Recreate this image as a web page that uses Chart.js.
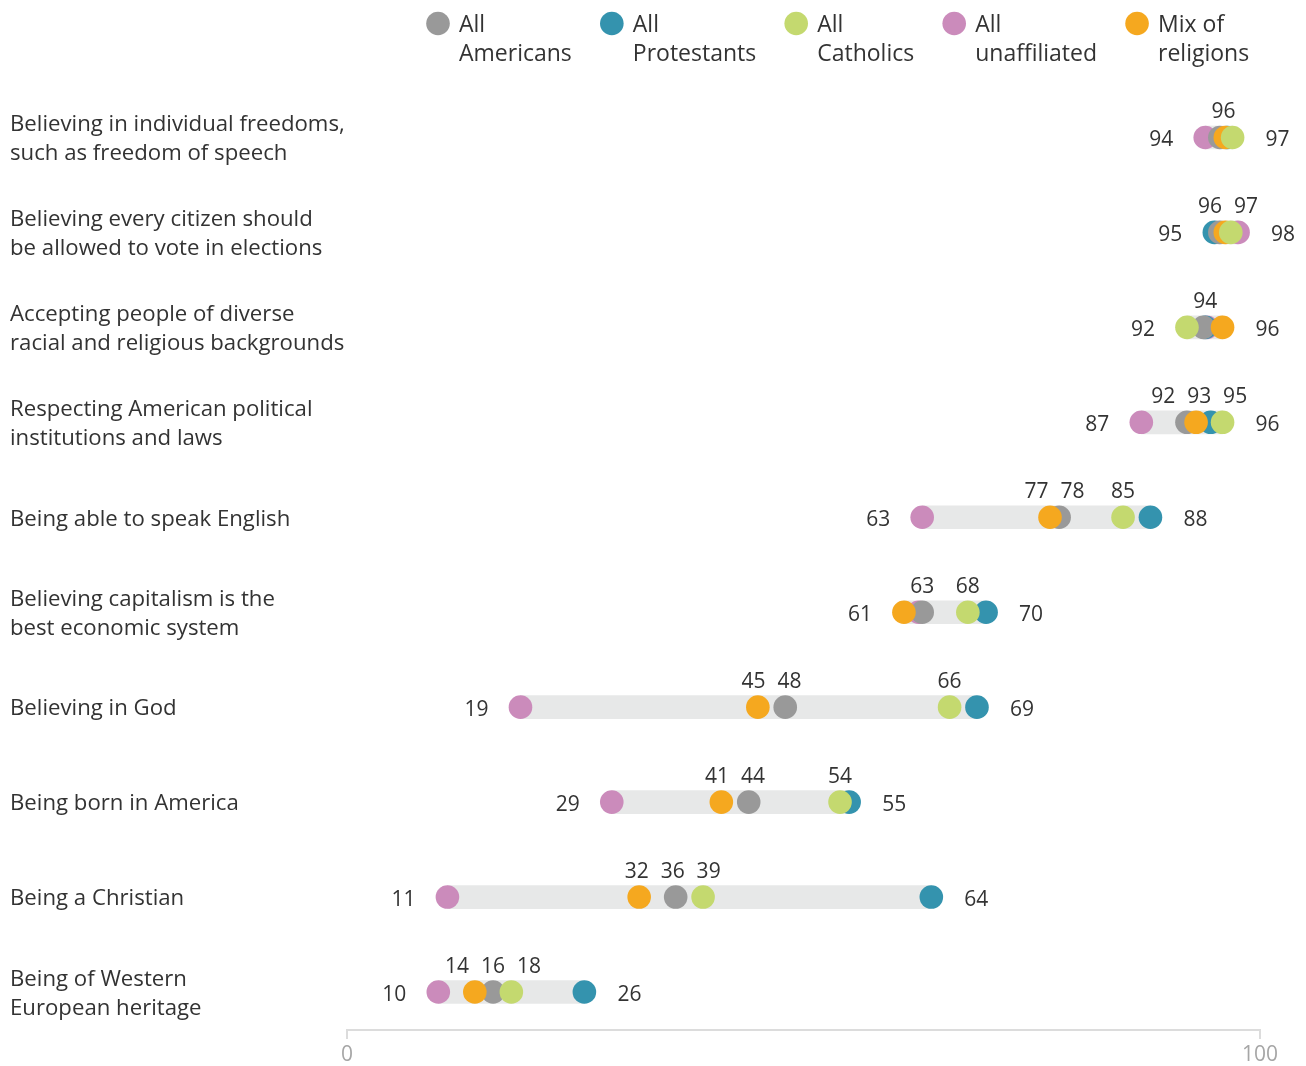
<!DOCTYPE html>
<html>
<head>
<meta charset="utf-8">
<script src="https://cdn.jsdelivr.net/npm/chart.js@4.4.1/dist/chart.umd.min.js"></script>
<style>
  html, body { margin: 0; padding: 0; background: #fff; }
  #wrap { width: 1306px; height: 1066px; }
</style>
</head>
<body>
<div id="wrap"><canvas id="dots"></canvas></div>
<script>
// rows, top to bottom
const categories = [
  ['Believing in individual freedoms,', 'such as freedom of speech'],
  ['Believing every citizen should', 'be allowed to vote in elections'],
  ['Accepting people of diverse', 'racial and religious backgrounds'],
  ['Respecting American political', 'institutions and laws'],
  'Being able to speak English',
  ['Believing capitalism is the', 'best economic system'],
  'Believing in God',
  'Being born in America',
  'Being a Christian',
  ['Being of Western', 'European heritage']
];

// % saying each is important
const allAmericans    = [95.6, 95.6, 93.8, 92,   78, 63,   48, 44, 36, 16];
const allProtestants  = [96.4, 95,   94,   94.6, 88, 70,   69, 55, 64, 26];
const allCatholics    = [97,   96.8, 92,   95.9, 85, 68,   66, 54, 39, 18];
const allUnaffiliated = [94,   97.6, 94.2, 87,   63, 62.6, 19, 29, 11, 10];
const mixOfReligions  = [96.2, 96.2, 95.9, 93,   77, 61,   45, 41, 32, 14];

const xTicks = [0, 100];

const series = [
  { name: ['All', 'Americans'],    data: allAmericans,    color: '#999999', order: 3 },
  { name: ['All', 'Protestants'],  data: allProtestants,  color: '#3493ae', order: 4 },
  { name: ['All', 'Catholics'],    data: allCatholics,    color: '#c4d96f', order: 1 },
  { name: ['All', 'unaffiliated'], data: allUnaffiliated, color: '#cb8bbb', order: 5 },
  { name: ['Mix of', 'religions'], data: mixOfReligions,  color: '#f5a81f', order: 2 }
];

const FONT = '"Open Sans", "DejaVu Sans", sans-serif';
const rowIdx = categories.map((_, i) => i);
const rowVals = i => series.map(s => s.data[i]);

// push overlapping labels apart
function spread(xs, gap) {
  for (let it = 0; it < 80; it++) {
    let moved = false;
    for (let k = 1; k < xs.length; k++) {
      const d = xs[k] - xs[k - 1];
      if (d < gap - 0.01) {
        const s = (gap - d) / 2;
        xs[k - 1] -= s; xs[k] += s; moved = true;
      }
    }
    if (!moved) break;
  }
}

const labelPlugin = {
  id: 'valueLabels',
  afterDatasetsDraw(chart) {
    const { ctx, scales: { x, y } } = chart;
    ctx.save();
    ctx.font = '21px ' + FONT;
    ctx.fillStyle = '#333';
    ctx.textBaseline = 'alphabetic';
    rowIdx.forEach(i => {
      const vals = rowVals(i);
      const lo = Math.min(...vals), hi = Math.max(...vals);
      const py = y.getPixelForValue(i);
      ctx.textAlign = 'right';
      ctx.fillText(Math.round(lo), x.getPixelForValue(lo) - 32, py + 9);
      ctx.textAlign = 'left';
      ctx.fillText(Math.round(hi), x.getPixelForValue(hi) + 33, py + 9);

      const rLo = Math.round(lo), rHi = Math.round(hi);
      const mids = [...new Set(vals.map(v => Math.round(v)))]
        .filter(v => v !== rLo && v !== rHi)
        .sort((a, b) => a - b);
      const xs = mids.map(v => x.getPixelForValue(v));
      spread(xs, 36);
      ctx.textAlign = 'center';
      mids.forEach((v, k) => ctx.fillText(v, xs[k], py - 19));
    });
    ctx.restore();
  },
  afterDraw(chart) {
    // two-line legend across the top
    const { ctx } = chart;
    ctx.save();
    ctx.font = '23px ' + FONT;
    ctx.textBaseline = 'alphabetic';
    ctx.textAlign = 'left';
    let cx = 438;
    series.forEach(s => {
      ctx.fillStyle = s.color;
      ctx.beginPath();
      ctx.arc(cx, 23.5, 11.8, 0, Math.PI * 2);
      ctx.fill();
      ctx.fillStyle = '#333';
      const tx = cx + 21;
      ctx.fillText(s.name[0], tx, 32);
      ctx.fillText(s.name[1], tx, 61);
      const w = Math.max(...s.name.map(t => ctx.measureText(t).width));
      cx = tx + w + 40;
    });
    ctx.restore();
  }
};

const bandData = rowIdx.map(i => {
  const vals = rowVals(i);
  return { y: i, x: [Math.min(...vals), Math.max(...vals)] };
});

new Chart(document.getElementById('dots'), {
  type: 'scatter',
  data: {
    datasets: [
      {
        type: 'bar',
        indexAxis: 'y',
        data: bandData,
        backgroundColor: '#e7e8e8',
        borderWidth: 0,
        barThickness: 23,
        order: 10
      },
      ...series.map(s => ({
        type: 'scatter',
        label: s.name.join(' '),
        data: s.data.map((v, i) => ({ x: v, y: i })),
        backgroundColor: s.color,
        borderWidth: 0,
        pointRadius: 11.8,
        pointHoverRadius: 11.8,
        order: s.order
      }))
    ]
  },
  options: {
    responsive: true,
    maintainAspectRatio: false,
    animation: false,
    events: [],
    layout: { padding: { left: 10, right: 46, top: 90, bottom: 0 } },
    plugins: { legend: { display: false }, tooltip: { enabled: false } },
    scales: {
      x: {
        type: 'linear',
        position: 'bottom',
        min: 0,
        max: 100,
        afterBuildTicks: s => { s.ticks = xTicks.map(v => ({ value: v })); },
        afterFit: s => { s.height = 36; },
        grid: { drawOnChartArea: false, drawTicks: true, tickLength: 9, color: '#dcdcdc', lineWidth: 2 },
        border: { color: '#dcdcdc', width: 2 },
        ticks: { color: '#a6a6a6', font: { family: FONT, size: 21 }, padding: 3, maxRotation: 0 }
      },
      y: {
        type: 'linear',
        reverse: true,
        min: -0.5,
        max: 9.4,
        offset: false,
        afterBuildTicks: s => { s.ticks = rowIdx.map(i => ({ value: i })); },
        afterFit: s => { s.width = 337; },
        grid: { display: false, drawTicks: false, offset: false },
        border: { display: false },
        ticks: {
          autoSkip: false,
          crossAlign: 'far',
          labelOffset: 2,
          color: '#333',
          font: { family: FONT, size: 22.2, lineHeight: 1.32 },
          callback: v => categories[v]
        }
      }
    }
  },
  plugins: [labelPlugin]
});
</script>
</body>
</html>
